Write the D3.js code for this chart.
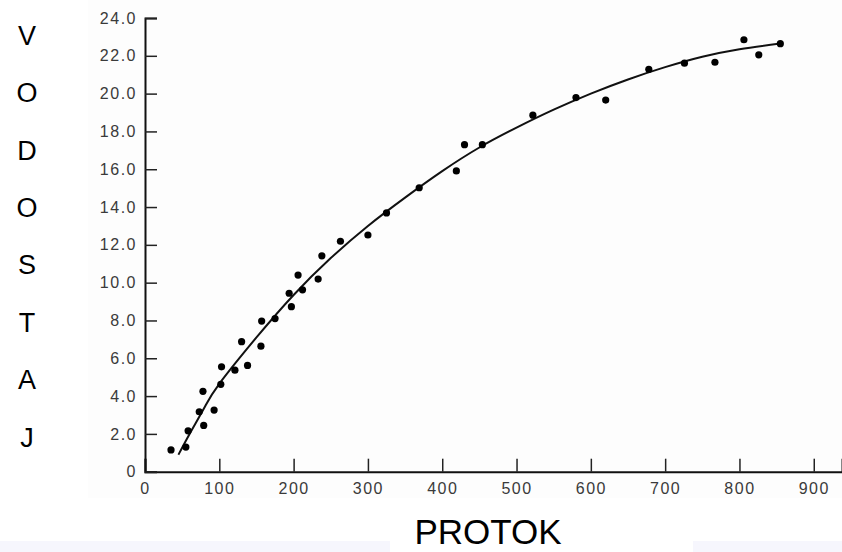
<!DOCTYPE html>
<html>
<head>
<meta charset="utf-8">
<script src="https://d3js.org/d3.v7.min.js"></script>
<style>
  body { margin: 0; background: #fff; }
  .tick text { font-family: "Liberation Sans", Arial, sans-serif; font-size: 16px; fill: #3a3a3a; letter-spacing: 1.5px; }
  .side { font-family: "Liberation Sans", Arial, sans-serif; fill: #000; }
</style>
</head>
<body>
<svg></svg>
<script>
// measured points (protok, vodostaj)
const protok = [35, 55, 58, 73, 78, 79, 93, 102, 103, 121, 130, 138, 156, 157, 175, 194, 197, 206, 212, 233, 238,
                263, 300, 325, 369, 419, 430, 454, 522, 580, 620, 678, 726, 767, 806, 826, 855];
const vodostaj = [1.15, 1.3, 2.16, 3.17, 4.25, 2.45, 3.26, 4.62, 5.55, 5.37, 6.88, 5.62, 6.64, 7.97, 8.1, 9.44, 8.73, 10.4, 9.62, 10.19, 11.42,
                  12.19, 12.52, 13.69, 15.02, 15.91, 17.3, 17.3, 18.86, 19.79, 19.66, 21.29, 21.61, 21.66, 22.85, 22.05, 22.64];

// fitted curve
const curveX = [45, 60, 80, 100, 150, 200, 250, 300, 350, 400, 450, 500, 550, 600, 650, 700, 750, 800, 855];
const curveY = [0.9, 2.0, 3.4, 4.65, 7.1, 9.35, 11.3, 13.0, 14.5, 15.9, 17.15, 18.2, 19.15, 20.0, 20.75, 21.4, 21.95, 22.35, 22.65];

const xTicks = [0, 100, 200, 300, 400, 500, 600, 700, 800, 900];
const yTicks = [0, 2, 4, 6, 8, 10, 12, 14, 16, 18, 20, 22, 24];
const yLetters = ["V", "O", "D", "O", "S", "T", "A", "J"];
const xTitle = "PROTOK";

const W = 842, H = 552;
const svg = d3.select("svg").attr("width", W).attr("height", H);

// faint scan background and bottom strip
svg.append("rect").attr("x", 88).attr("y", 0).attr("width", W - 88).attr("height", 498).attr("fill", "#fdfdfd");
svg.append("rect").attr("x", 0).attr("y", 541).attr("width", 390).attr("height", 11).attr("fill", "#f6f6fd");
svg.append("rect").attr("x", 693).attr("y", 541).attr("width", W - 693).attr("height", 11).attr("fill", "#f6f6fd");

const x = d3.scaleLinear().domain([0, 938]).range([145, 842]);
const y = d3.scaleLinear().domain([0, 24]).range([471.7, 18]);

const xAxis = svg.append("g")
  .attr("transform", "translate(0," + y(0) + ")")
  .call(d3.axisTop(x).tickValues(xTicks).tickSize(13).tickFormat(d => d));
xAxis.select(".domain").attr("stroke", "#111").attr("stroke-width", 2);
xAxis.selectAll(".tick line").attr("stroke", "#222").attr("stroke-width", 1.5);
xAxis.selectAll(".tick text").attr("y", 22).attr("dy", 0).attr("text-anchor", "middle");

const yAxis = svg.append("g")
  .attr("transform", "translate(" + x(0) + ",0)")
  .call(d3.axisRight(y).tickValues(yTicks).tickSize(12).tickFormat(d => d === 0 ? "0" : d.toFixed(1)));
yAxis.select(".domain").attr("stroke", "#111").attr("stroke-width", 2);
yAxis.selectAll(".tick line").attr("stroke", "#222").attr("stroke-width", 1.5);
yAxis.selectAll(".tick text").attr("x", -8).attr("text-anchor", "end");

// curve
const line = d3.line().x(d => x(d[0])).y(d => y(d[1])).curve(d3.curveNatural);
svg.append("path")
  .datum(d3.zip(curveX, curveY))
  .attr("d", line)
  .attr("fill", "none")
  .attr("stroke", "#111")
  .attr("stroke-width", 2);

// points
svg.append("g").selectAll("circle")
  .data(d3.zip(protok, vodostaj))
  .join("circle")
  .attr("cx", d => x(d[0]))
  .attr("cy", d => y(d[1]))
  .attr("r", 3.6)
  .attr("fill", "#000");

// vertical y title, one letter per line
svg.append("g").selectAll("text")
  .data(yLetters)
  .join("text")
  .attr("class", "side")
  .attr("x", 27)
  .attr("y", (d, i) => 35 + i * 57.4)
  .attr("dy", "0.36em")
  .attr("text-anchor", "middle")
  .attr("font-size", 27)
  .text(d => d);

svg.append("text")
  .attr("class", "side")
  .attr("x", 488)
  .attr("y", 544)
  .attr("text-anchor", "middle")
  .attr("font-size", 35)
  .text(xTitle);
</script>
</body>
</html>
